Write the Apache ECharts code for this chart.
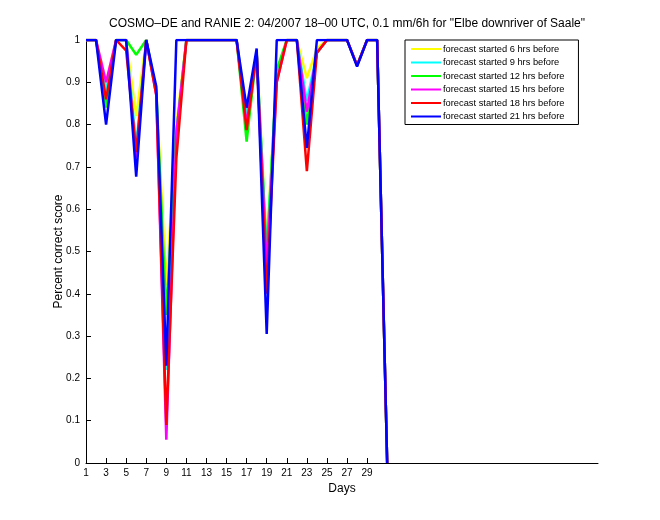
<!DOCTYPE html>
<html>
<head>
<meta charset="utf-8">
<script src="https://cdn.jsdelivr.net/npm/echarts@6/dist/echarts.min.js"></script>
<style>html,body{margin:0;padding:0;background:#fff}#c{width:660px;height:520px}</style>
</head>
<body>
<div id="c"></div>
<script>
var days = [1,2,3,4,5,6,7,8,9,10,11,12,13,14,15,16,17,18,19,20,21,22,23,24,25,26,27,28,29,30,31];
var xTicks = [1,3,5,7,9,11,13,15,17,19,21,23,25,27,29];
var seriesNames = ['forecast started 6 hrs before','forecast started 9 hrs before','forecast started 12 hrs before','forecast started 15 hrs before','forecast started 18 hrs before','forecast started 21 hrs before'];
var h6  = [1,1,0.90,1,1,0.82,1,0.88,0.42,0.80,1,1,1,1,1,1,0.83,0.97,0.52,0.92,1,1,0.91,0.98,1,1,1,0.94,1,1,0];
var h9  = [1,1,0.88,1,1,0.75,1,0.88,0.22,0.78,1,1,1,1,1,1,0.82,0.97,0.50,0.92,1,1,0.855,0.97,1,1,1,0.94,1,1,0];
var h12 = [1,1,0.84,1,1,0.965,1,0.88,0.35,0.78,1,1,1,1,1,1,0.76,0.97,0.485,0.93,1,1,0.80,0.97,1,1,1,0.94,1,1,0];
var h15 = [1,1,0.90,1,1,0.72,1,0.87,0.055,0.78,1,1,1,1,1,1,0.80,0.97,0.46,0.90,1,1,0.83,0.97,1,1,1,0.94,1,1,0];
var h18 = [1,1,0.86,1,0.975,0.735,1,0.87,0.09,0.72,1,1,1,1,1,1,0.787,0.97,0.40,0.90,1,1,0.69,0.97,1,1,1,0.94,1,1,0];
var h21 = [1,1,0.80,1,1,0.677,1,0.89,0.23,1,1,1,1,1,1,1,0.84,0.98,0.305,1,1,1,0.745,1,1,1,1,0.937,1,1,0];
var colors = ['#ffff00','#00ffff','#00ff00','#ff00ff','#ff0000','#0000ff'];
var allData = [h6,h9,h12,h15,h18,h21];

var FONT = '"Liberation Sans", Arial, Helvetica, sans-serif';
var chart = echarts.init(document.getElementById('c'));
var series = allData.map(function(arr, i){
  return {
    name: seriesNames[i], type: 'line', symbol: 'none', animation: false,
    data: days.map(function(d, j){ return [d, arr[j]]; }),
    lineStyle: {color: colors[i], width: 2.5}, itemStyle: {color: colors[i]}
  };
});
chart.setOption({
  animation: false,
  backgroundColor: '#fff',
  title: {
    text: 'COSMO\u2013DE and RANIE 2: 04/2007 18\u201300 UTC, 0.1 mm/6h for "Elbe downriver of Saale"',
    left: 342, top: 13, textAlign: 'center',
    textStyle: {fontFamily: FONT, fontSize: 12, fontWeight: 'normal', color: '#000'}
  },
  grid: {left: 86, top: 40, width: 512, height: 423},
  legend: {
    orient: 'vertical', left: 405, top: 40,
    data: seriesNames,
    icon: 'rect', itemWidth: 30, itemHeight: 2, itemGap: 1.5,
    borderColor: '#000', borderWidth: 1, borderRadius: 0,
    padding: [3, 14, 2, 6],
    backgroundColor: '#fff',
    textStyle: {fontFamily: FONT, fontSize: 9.3, color: '#000', lineHeight: 12, padding: [0,0,0,-3]}
  },
  xAxis: {
    type: 'value', min: 1, max: 52,
    name: 'Days', nameLocation: 'middle', nameGap: 20, nameMoveOverlap: false,
    nameTextStyle: {fontFamily: FONT, fontSize: 12, color: '#000'},
    axisLine: {show: true, lineStyle: {color: '#000', width: 1}},
    axisTick: {show: true, inside: true, length: 5, customValues: xTicks, lineStyle: {color: '#000'}},
    axisLabel: {customValues: xTicks, fontFamily: FONT, fontSize: 10, color: '#000', margin: 5},
    splitLine: {show: false}
  },
  yAxis: {
    type: 'value', min: 0, max: 1, interval: 0.1,
    name: 'Percent correct score', nameLocation: 'middle', nameGap: 21, nameRotate: 90, nameMoveOverlap: false,
    nameTextStyle: {fontFamily: FONT, fontSize: 12, color: '#000'},
    axisLine: {show: true, lineStyle: {color: '#000', width: 1}},
    axisTick: {show: true, inside: true, length: 5, lineStyle: {color: '#000'}},
    axisLabel: {fontFamily: FONT, fontSize: 10, color: '#000', margin: 6,
      formatter: function(v){ return String(Math.round(v*10)/10); }},
    splitLine: {show: false}
  },
  series: series
});
</script>
</body>
</html>
